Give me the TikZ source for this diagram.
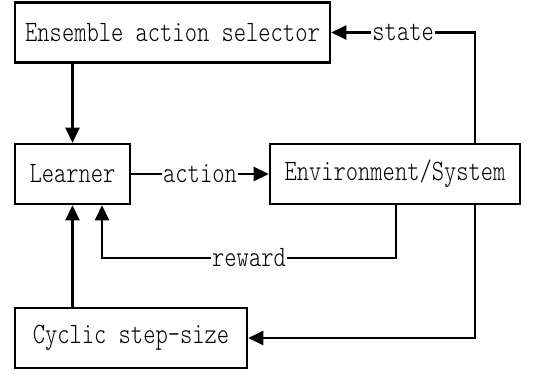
\documentclass[tikz,border=0pt]{standalone}
\usepackage{fontspec}
\setmainfont{Latin Modern Mono Light}[FakeStretch=0.79]
\usetikzlibrary{arrows.meta}
\begin{document}
\begin{tikzpicture}[x=0.5pt,y=-0.5pt,
  box/.style={draw,line width=1.3pt,minimum height=30pt,inner sep=0pt,font=\fontsize{14.8pt}{16pt}\selectfont},
  arr/.style={line width=1.3pt,-{Triangle[length=7.5pt,width=7pt]}},
  lbl/.style={fill=white,inner sep=0.6pt,font=\fontsize{14.8pt}{16pt}\selectfont}]
\useasboundingbox (0,0) rectangle (541,374);
\node[box,minimum width=157.5pt] (ens) at (172.5,32.5) {Ensemble action selector};
\node[box,minimum width=57.5pt] (learn) at (72.5,174) {Learner};
\node[box,minimum width=125pt] (env) at (395,174) {Environment/System};
\node[box,minimum width=116pt] (cyc) at (131,338) {Cyclic step-size};
\coordinate (sx) at (475,0);
\coordinate (rx) at (396,0);
\coordinate (ry) at (102,258);
\draw[arr] (ens.south -| learn) -- (learn.north);
\draw[arr] (env.north -| sx) |- node[lbl,pos=0.75] {state} (ens.east);
\draw[arr] (learn.east) -- node[lbl] {action} (env.west);
\draw[arr] (env.south -| rx) |- node[lbl,pos=0.75] {reward} (ry) -- (learn.south -| ry);
\draw[arr] (env.south -| sx) |- (cyc.east);
\draw[arr] (cyc.north -| learn) -- (learn.south);
\end{tikzpicture}
\end{document}
